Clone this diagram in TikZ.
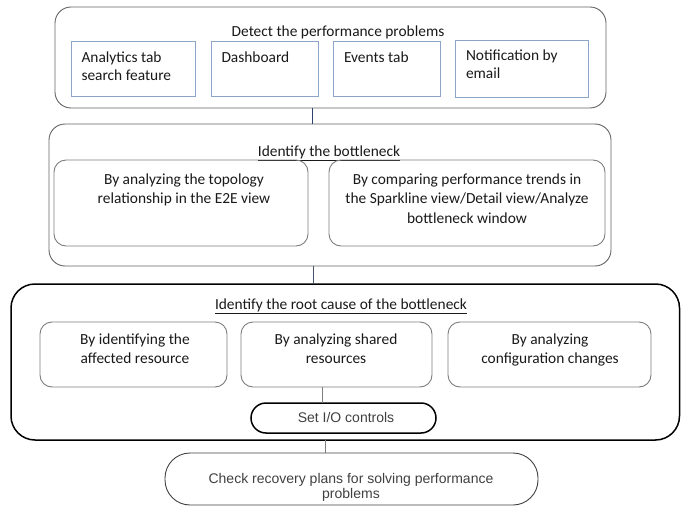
\documentclass[tikz,border=0pt]{standalone}
\usepackage{fontspec}
\setmainfont{Carlito}
\newfontfamily\arialfont{Liberation Sans}
\usetikzlibrary{calc, positioning}
\definecolor{framegray}{RGB}{100,100,100}
\definecolor{tabblue}{RGB}{140,165,198}
\definecolor{innergray}{RGB}{125,125,125}
\definecolor{linknavy}{RGB}{45,65,105}
\definecolor{textgray}{RGB}{64,64,64}
\newcommand\calsize{\fontsize{15.4}{19.5}\selectfont}
\newcommand\arsize{\fontsize{14}{15}\selectfont}
% box: style, name, left, top, right, bottom
\newcommand\flowbox[6]{\node[#1, anchor=north west, minimum width={#5-#3}, minimum height={#6-#4}] (#2) at (#3,#4) {};}

\begin{document}
\begin{tikzpicture}[x=1pt, y=-1pt,
  every node/.style={inner sep=0pt, outer sep=0pt},
  phase/.style={draw=framegray, line width=0.9pt, rounded corners=16pt},
  rootphase/.style={draw=black, line width=1.5pt, rounded corners=24pt},
  tab/.style={draw=tabblue, line width=0.9pt},
  way/.style={draw=innergray, line width=0.9pt, rounded corners=12pt},
  pill/.style={draw=black, line width=1.5pt, rounded corners=15pt},
  endpill/.style={draw=textgray, line width=0.9pt, rounded corners=25pt},
  title/.style={anchor=base, font=\calsize, text=black!90},
  tabtext/.style={anchor=base west, align=left, font=\fontsize{15.4}{18}\selectfont, text=black!90},
  waytext/.style={anchor=base, align=center, font=\calsize, text=black!90},
  graytext/.style={anchor=base, align=center, font=\arialfont\arsize, text=textgray},
  link/.style={draw=innergray, line width=0.9pt}]
\useasboundingbox (0,0) rectangle (681,506);

% detect (text nodes sit on the baseline of their last line)
\flowbox{phase}{detect}{55}{7}{606}{108}
\node[title] (detecttitle) at (338,36.5) {Detect the performance problems};
\flowbox{tab}{analytics}{71}{41}{195}{96}
\flowbox{tab}{dashboard}{211}{41}{318}{96}
\flowbox{tab}{events}{333}{41}{440}{96}
\flowbox{tab}{notify}{455}{40}{588}{97}
\node[tabtext] (analyticstext) at (81.5,80) {Analytics tab\\search feature};
\node[tabtext] (dashboardtext) at (221.5,62) {Dashboard};
\node[tabtext] (eventstext) at (344,62) {Events tab};
\node[tabtext] (notifytext) at (466,78) {Notification by\\email};

% bottleneck
\flowbox{phase}{bottleneck}{49}{124}{611}{266}
\node[title] (bottlenecktitle) at (329,156) {\underline{Identify the bottleneck}};
\flowbox{way}{topology}{54}{160}{308}{246}
\flowbox{way}{trends}{329}{160}{605}{246}
\node[waytext] (topologytext) at (184,203.5) {By analyzing the topology\\relationship in the E2E view};
\node[waytext] (trendstext) at (467,223) {By comparing performance trends in\\the Sparkline view/Detail view/Analyze\\bottleneck window};

% root cause
\flowbox{rootphase}{rootcause}{11}{284}{679.5}{440}
\node[title] (rootcausetitle) at (341,309) {\underline{Identify the root cause of the bottleneck}};
\flowbox{way}{affected}{40}{322}{227}{387}
\flowbox{way}{shared}{241}{322}{432}{387}
\flowbox{way}{config}{448}{322}{651}{387}
\node[waytext] (affectedtext) at (135,363.5) {By identifying the\\affected resource};
\node[waytext] (sharedtext) at (336,363.5) {By analyzing shared\\resources};
\node[waytext] (configtext) at (550,363.5) {By analyzing\\configuration changes};
\flowbox{pill}{iocontrols}{251}{403}{436}{433}
\node[graytext] (iotext) at (346,422) {Set I/O controls};

% recovery
\flowbox{endpill}{recovery}{165}{453}{538}{505}
\node[graytext] (recoverytext) at (351,498) {Check recovery plans for solving performance\\problems};

% connectors
\draw[link, draw=linknavy] ([xshift=-18pt]detect.south) -- ([xshift=-18pt]detect.south |- bottleneck.north);
\draw[link, draw=linknavy!70!gray] ([xshift=-17pt]bottleneck.south) -- ([xshift=-17pt]bottleneck.south |- rootcause.north);
\draw[link] ([xshift=-14pt]shared.south) -- ([xshift=-14pt]shared.south |- iocontrols.north);
\draw[link] ([xshift=-20pt]rootcause.south) -- ([xshift=-20pt]rootcause.south |- recovery.north);
\end{tikzpicture}
\end{document}
